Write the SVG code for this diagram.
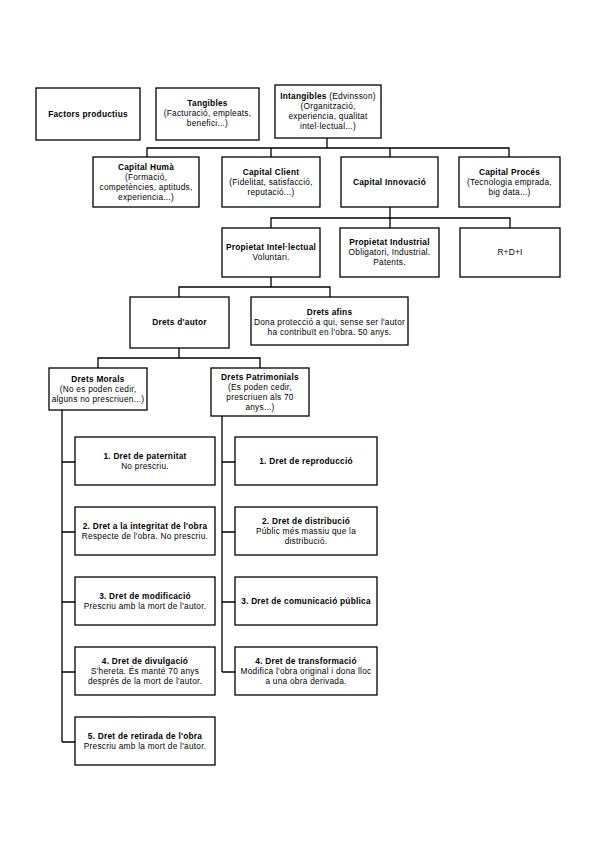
<svg xmlns="http://www.w3.org/2000/svg" width="599" height="848" viewBox="0 0 599 848">
<style>
rect.b{fill:#fff;stroke:#000;stroke-width:1.3}
text{font-family:"Liberation Sans",Arial,sans-serif;font-size:8.3px;letter-spacing:0.25px;fill:#000;text-anchor:middle}
.h{font-weight:bold}
#connectors path{fill:none;stroke:#000;stroke-width:1.3}
</style>
<rect width="599" height="848" fill="#fff"/>
<g id="connectors">
<path d="M327 138V148M147 157V148H509V157M271 148V157M390 148V157"/>
<path d="M390 207V218M271 228V218H510V228M390 218V228"/>
<path d="M271 277V287M179 297V287H330V297"/>
<path d="M179 348V358M98 368V358H260V368"/>
<path d="M62 410V742M62 462H75M62 532H75M62 602H75M62 672H75M62 742H75"/>
<path d="M222 416V672M222 462H235M222 532H235M222 602H235M222 672H235"/>
</g>
<g id="factors"><rect class="b" x="36" y="88" width="104" height="52"/><text class="h" x="88" y="117">Factors productius</text></g>
<g id="tangibles"><rect class="b" x="156" y="88" width="103" height="52"/><text class="h" x="207.5" y="106">Tangibles</text><text x="207.5" y="116">(Facturació, empleats,</text><text x="207.5" y="126">benefici...)</text></g>
<g id="intangibles"><rect class="b" x="275" y="85" width="106" height="53"/><text x="328" y="99"><tspan class="h">Intangibles</tspan> (Edvinsson)</text><text x="328" y="109">(Organització,</text><text x="328" y="119">experiencia, qualitat</text><text x="328" y="129">intel·lectual...)</text></g>
<g id="capital-huma"><rect class="b" x="93" y="157" width="106" height="50"/><text class="h" x="146" y="170">Capital Humà</text><text x="146" y="180">(Formació,</text><text x="146" y="190">competències, aptituds,</text><text x="146" y="200">experiencia...)</text></g>
<g id="capital-client"><rect class="b" x="222" y="157" width="98" height="50"/><text class="h" x="271" y="175">Capital Client</text><text x="271" y="185">(Fidelitat, satisfacció,</text><text x="271" y="195">reputació...)</text></g>
<g id="capital-innovacio"><rect class="b" x="341" y="157" width="97" height="50"/><text class="h" x="389.5" y="185">Capital Innovació</text></g>
<g id="capital-proces"><rect class="b" x="459" y="157" width="101" height="50"/><text class="h" x="509.5" y="175">Capital Procés</text><text x="509.5" y="185">(Tecnologia emprada,</text><text x="509.5" y="195">big data...)</text></g>
<g id="propietat-intellectual"><rect class="b" x="222" y="228" width="98" height="49"/><text class="h" x="271" y="250">Propietat Intel·lectual</text><text x="271" y="260">Voluntari.</text></g>
<g id="propietat-industrial"><rect class="b" x="340" y="228" width="99" height="49"/><text class="h" x="389.5" y="245">Propietat Industrial</text><text x="389.5" y="255">Obligatori, Industrial.</text><text x="389.5" y="265">Patents.</text></g>
<g id="rdi"><rect class="b" x="460" y="228" width="100" height="49"/><text x="510" y="255">R+D+I</text></g>
<g id="drets-autor"><rect class="b" x="130" y="297" width="99" height="51"/><text class="h" x="179.5" y="325">Drets d'autor</text></g>
<g id="drets-afins"><rect class="b" x="251" y="297" width="157" height="48"/><text class="h" x="329.5" y="315">Drets afins</text><text x="329.5" y="325">Dona protecció a qui, sense ser l'autor</text><text x="329.5" y="335">ha contribuït en l'obra. 50 anys.</text></g>
<g id="drets-morals"><rect class="b" x="49" y="368" width="98" height="42"/><text class="h" x="98" y="382">Drets Morals</text><text x="98" y="392">(No es poden cedir,</text><text x="98" y="402">alguns no prescriuen...)</text></g>
<g id="drets-patrimonials"><rect class="b" x="211" y="368" width="98" height="48"/><text class="h" x="260" y="380">Drets Patrimonials</text><text x="260" y="390">(Es poden cedir,</text><text x="260" y="400">prescriuen als 70</text><text x="260" y="410">anys...)</text></g>
<g id="m1"><rect class="b" x="75" y="437" width="140" height="48"/><text class="h" x="145" y="459">1. Dret de paternitat</text><text x="145" y="469">No prescriu.</text></g>
<g id="m2"><rect class="b" x="75" y="507" width="140" height="48"/><text class="h" x="145" y="529">2. Dret a la integritat de l'obra</text><text x="145" y="539">Respecte de l'obra. No prescriu.</text></g>
<g id="m3"><rect class="b" x="75" y="577" width="140" height="48"/><text class="h" x="145" y="599">3. Dret de modificació</text><text x="145" y="609">Prescriu amb la mort de l'autor.</text></g>
<g id="m4"><rect class="b" x="75" y="647" width="140" height="48"/><text class="h" x="145" y="664">4. Dret de divulgació</text><text x="145" y="674">S'hereta. És manté 70 anys</text><text x="145" y="684">després de la mort de l'autor.</text></g>
<g id="m5"><rect class="b" x="75" y="717" width="140" height="48"/><text class="h" x="145" y="739">5. Dret de retirada de l'obra</text><text x="145" y="749">Prescriu amb la mort de l'autor.</text></g>
<g id="p1"><rect class="b" x="235" y="437" width="142" height="48"/><text class="h" x="306" y="464">1. Dret de reproducció</text></g>
<g id="p2"><rect class="b" x="235" y="507" width="142" height="48"/><text class="h" x="306" y="524">2. Dret de distribució</text><text x="306" y="534">Públic més massiu que la</text><text x="306" y="544">distribució.</text></g>
<g id="p3"><rect class="b" x="235" y="577" width="142" height="48"/><text class="h" x="306" y="604">3. Dret de comunicació pública</text></g>
<g id="p4"><rect class="b" x="235" y="647" width="142" height="48"/><text class="h" x="306" y="664">4. Dret de transformació</text><text x="306" y="674">Modifica l'obra original i dona lloc</text><text x="306" y="684">a una obra derivada.</text></g>
</svg>
